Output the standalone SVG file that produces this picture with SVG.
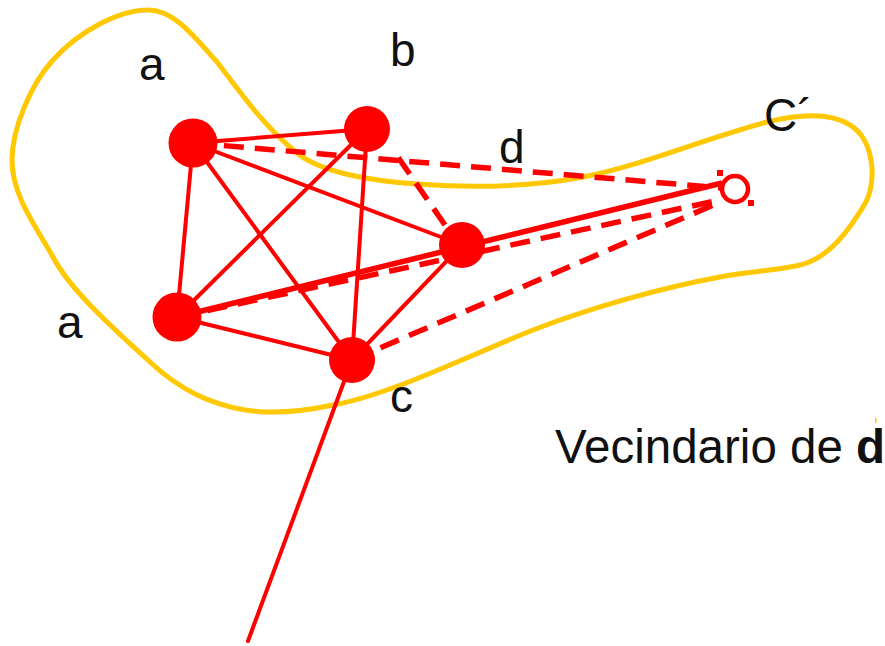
<svg xmlns="http://www.w3.org/2000/svg" width="885" height="646" viewBox="0 0 885 646">
<style>
.hull{fill:none;stroke:#ffc800;stroke-width:5;stroke-linejoin:round}
.e{stroke:#ff0000;stroke-width:4;stroke-linecap:round;fill:none}
.thick{stroke:#ff0000;stroke-width:5.5;fill:none}
.dash{stroke:#ff0000;stroke-width:5.5;stroke-dasharray:20 11;fill:none}
.node{fill:#ff0000}
.open{fill:#ffffff;stroke:#ff0000;stroke-width:4.5}
.lbl{font-family:"Liberation Sans",Arial,sans-serif;font-size:46px;fill:#111111}
.big{font-size:47.5px}
</style>
<rect width="885" height="646" fill="#ffffff"/>
<g id="neighbourhood">
<path class="hull" d="M148,10 C175,10 195,38 217,62 C235,85 262,125 297,153 C320,172 370,181 417,184 C470,188 530,187 583,177 C640,166 700,140 767,122 C800,114 830,112 850,125 C875,140 878,185 863,207 C850,228 830,258 800,265 C780,270 750,271 720,277 C660,288 590,308 533,330 C470,355 390,395 333,405 C300,412 270,414 245,410 C210,404 180,390 150,362 C115,330 70,290 53,257 C35,225 12,195 12,160 C12,130 30,85 53,60 C80,30 120,10 148,10 Z"/>
<rect x="875" y="418" width="1.5" height="5" fill="#ffc800"/>
</g>
<g id="connectors">
<line class="e" x1="193" y1="143" x2="367" y2="129"/>
<line class="e" x1="193" y1="143" x2="462" y2="245"/>
<line class="e" x1="193" y1="143" x2="177" y2="317"/>
<line class="e" x1="193" y1="143" x2="352" y2="360"/>
<line class="e" x1="367" y1="129" x2="177" y2="317"/>
<line class="e" x1="367" y1="129" x2="352" y2="360"/>
<line class="e" x1="462" y1="245" x2="352" y2="360"/>
<line class="e" x1="177" y1="317" x2="352" y2="360"/>
<line class="e" x1="352" y1="360" x2="248" y2="641"/>
<line class="thick" x1="177" y1="317" x2="722" y2="183"/>
<line class="dash" x1="193" y1="143" x2="722" y2="188"/>
<line class="dash" x1="177" y1="317" x2="720" y2="200"/>
<line class="dash" x1="352" y1="360" x2="718" y2="203"/>
<line class="dash" x1="445" y1="225" x2="393" y2="150"/>
<rect x="717" y="170" width="6" height="6" fill="#ff0000"/>
<rect x="748" y="200" width="6" height="6" fill="#ff0000"/>
</g>
<g id="n1"><circle class="node" cx="193" cy="143" r="24.5"/></g>
<g id="n2"><circle class="node" cx="367" cy="129" r="23"/></g>
<g id="n3"><circle class="node" cx="462" cy="245" r="23"/></g>
<g id="n4"><circle class="node" cx="177" cy="317" r="24.5"/></g>
<g id="n5"><circle class="node" cx="352" cy="360" r="23"/></g>
<g id="d"><circle class="open" cx="735" cy="189" r="13"/></g>
<g id="labels">
<text class="lbl" x="139" y="80">a</text>
<text class="lbl" x="390" y="66">b</text>
<text class="lbl" x="499" y="163">d</text>
<text class="lbl" x="764" y="131">C´</text>
<text class="lbl" x="57" y="338">a</text>
<text class="lbl" x="390" y="412">c</text>
<text class="lbl big" x="555" y="463">Vecindario de <tspan font-weight="bold">d</tspan></text>
</g>
</svg>
